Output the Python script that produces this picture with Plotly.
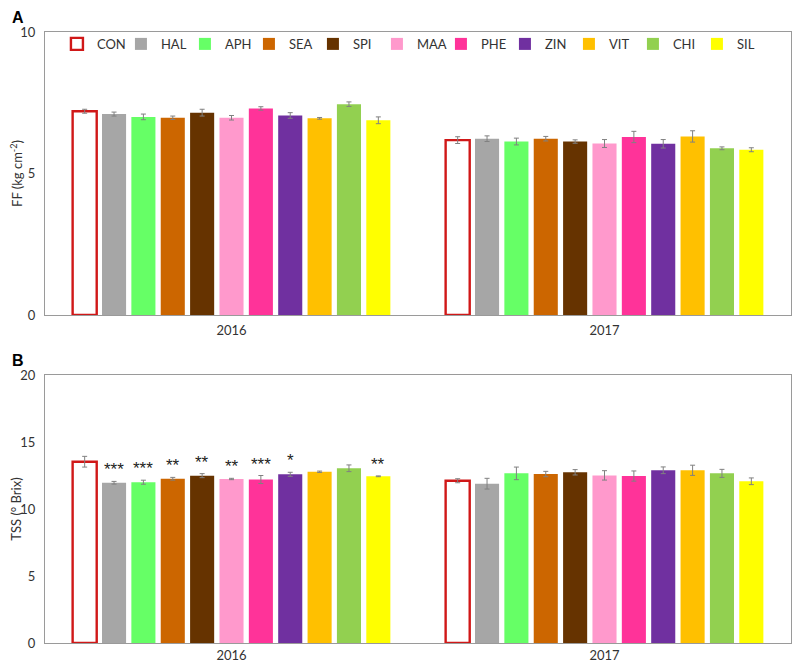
import plotly.graph_objects as go

years = ["2016", "2017"]
treatments = ["CON", "HAL", "APH", "SEA", "SPI", "MAA", "PHE", "ZIN", "VIT", "CHI", "SIL"]
colors = ["#FFFFFF", "#A6A6A6", "#66FF66", "#CC6600", "#663300", "#FF99CC",
          "#FF3399", "#7030A0", "#FFC000", "#92D050", "#FFFF00"]

# FF (kg cm-2): [2016, 2017]
ff_vals = {
    "CON": [7.20, 6.18], "HAL": [7.10, 6.23], "APH": [7.00, 6.13], "SEA": [6.97, 6.23],
    "SPI": [7.15, 6.13], "MAA": [6.97, 6.06], "PHE": [7.30, 6.29], "ZIN": [7.05, 6.05],
    "VIT": [6.95, 6.31], "CHI": [7.45, 5.89], "SIL": [6.88, 5.84],
}
ff_err = {
    "CON": [0.07, 0.12], "HAL": [0.07, 0.10], "APH": [0.10, 0.12], "SEA": [0.06, 0.08],
    "SPI": [0.12, 0.06], "MAA": [0.08, 0.14], "PHE": [0.06, 0.20], "ZIN": [0.10, 0.15],
    "VIT": [0.03, 0.20], "CHI": [0.08, 0.05], "SIL": [0.12, 0.07],
}
# TSS (° Brix): [2016, 2017]
tss_vals = {
    "CON": [13.53, 12.11], "HAL": [11.96, 11.89], "APH": [12.00, 12.66], "SEA": [12.26, 12.61],
    "SPI": [12.49, 12.74], "MAA": [12.24, 12.51], "PHE": [12.20, 12.46], "ZIN": [12.59, 12.89],
    "VIT": [12.78, 12.89], "CHI": [13.04, 12.66], "SIL": [12.44, 12.07],
}
tss_err = {
    "CON": [0.40, 0.15], "HAL": [0.10, 0.40], "APH": [0.15, 0.47], "SEA": [0.10, 0.20],
    "SPI": [0.15, 0.20], "MAA": [0.05, 0.35], "PHE": [0.30, 0.38], "ZIN": [0.15, 0.25],
    "VIT": [0.05, 0.38], "CHI": [0.25, 0.30], "SIL": [0.03, 0.25],
}
# significance marks for TSS 2016
tss_sig_2016 = {"HAL": "***", "APH": "***", "SEA": "**", "SPI": "**", "MAA": "**",
                "PHE": "***", "ZIN": "*", "SIL": "**"}

FONT = "Lato, 'Open Sans', sans-serif"
fig = go.Figure()

for i, t in enumerate(treatments):
    is_con = t == "CON"
    marker = dict(color=colors[i],
                  line=dict(color="#D01818" if is_con else "rgba(0,0,0,0)", width=2.4 if is_con else 0))
    eb = lambda arr: dict(type="data", array=arr, color="#808080", thickness=1, width=2.5)
    fig.add_trace(go.Bar(x=years, y=ff_vals[t], name=t, marker=marker,
                         error_y=eb(ff_err[t]), xaxis="x", yaxis="y",
                         legendgroup=t, showlegend=True, offsetgroup=str(i)))
    fig.add_trace(go.Bar(x=years, y=tss_vals[t], name=t, marker=marker,
                         error_y=eb(tss_err[t]), xaxis="x2", yaxis="y2",
                         legendgroup=t, showlegend=False, offsetgroup=str(i)))

axis_common = dict(showgrid=False, zeroline=False, showline=True, linecolor="#9A9A9A",
                   linewidth=1, mirror=True, ticks="", automargin=False,
                   tickfont=dict(family=FONT, size=13, color="#333333"))

# page body has an 8px default margin, so the figure is drawn 8px smaller
fig.update_layout(
    width=792, height=663,
    margin=dict(l=37, r=9, t=24, b=28),
    paper_bgcolor="white", plot_bgcolor="white",
    barmode="group", bargap=0.134, bargroupgap=0.18,
    font=dict(family=FONT, color="#333333"),
    xaxis=dict(domain=[0, 1], anchor="y", type="category", ticklabelstandoff=3, **axis_common),
    yaxis=dict(domain=[0.5368, 1.0], anchor="x", range=[0, 10], tickvals=[0, 5, 10],
               ticklabelstandoff=6,
               title=dict(text="FF (kg cm<sup>-2</sup>)", font=dict(family=FONT, size=13, color="#333333"),
                          standoff=18),
               **axis_common),
    xaxis2=dict(domain=[0, 1], anchor="y2", type="category", **axis_common),
    yaxis2=dict(domain=[0, 0.4386], anchor="x2", range=[0, 20], tickvals=[0, 5, 10, 15, 20],
                ticklabelstandoff=6,
                title=dict(text="TSS (° Brix)", font=dict(family=FONT, size=13, color="#333333"),
                           standoff=18),
                **axis_common),
    legend=dict(orientation="h", x=0.016, y=1.005, xanchor="left", yanchor="top",
                entrywidth=19, entrywidthmode="pixels",
                font=dict(family=FONT, size=13, color="#333333"),
                bgcolor="rgba(0,0,0,0)", tracegroupgap=0),
    showlegend=True,
)

# significance asterisks
n = len(treatments)
for i, t in enumerate(treatments):
    if t in tss_sig_2016:
        fig.add_annotation(x=0, y=tss_vals[t][0] + tss_err[t][0], xref="x2", yref="y2",
                           text=tss_sig_2016[t], showarrow=False, yanchor="bottom", yshift=0,
                           xshift=(i - (n - 1) / 2) * (746 / 2 * (1 - 0.134) / n),
                           font=dict(family="Liberation Sans", size=17, color="#222222"))

# panel letters
fig.add_annotation(x=-0.047, y=1.0, xref="paper", yref="paper", text="<b>A</b>", showarrow=False,
                   xanchor="left", yanchor="bottom", yshift=4, font=dict(family="Liberation Sans", size=16, color="#000"))
fig.add_annotation(x=-0.047, y=0.4386, xref="paper", yref="paper", text="<b>B</b>", showarrow=False,
                   xanchor="left", yanchor="bottom", yshift=4, font=dict(family="Liberation Sans", size=16, color="#000"))

fig.write_html("out.html")
